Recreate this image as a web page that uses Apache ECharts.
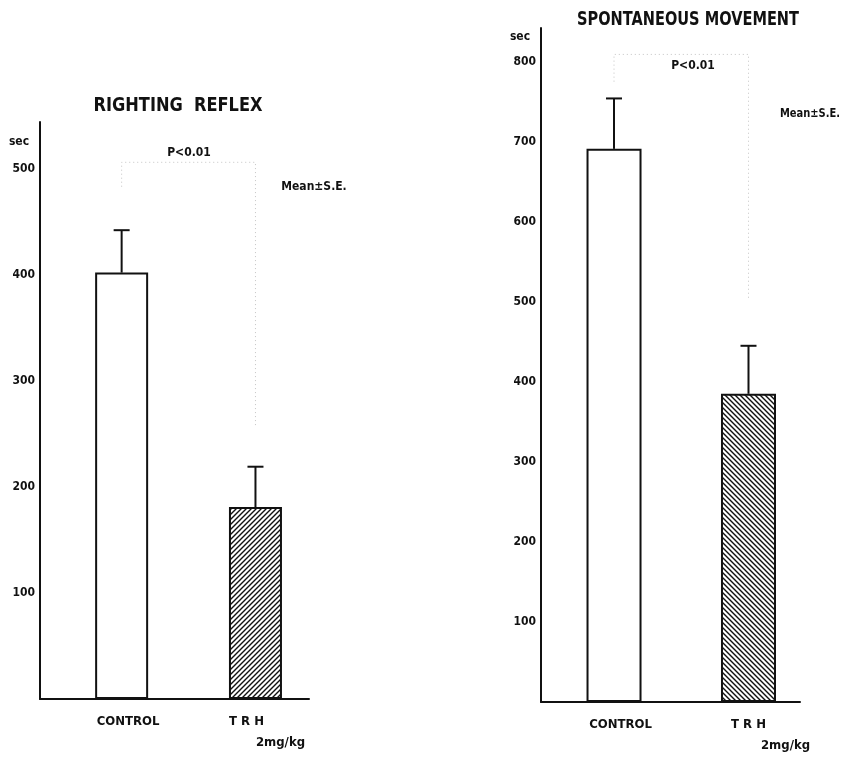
<!DOCTYPE html>
<html><head><meta charset="utf-8">
<script src="https://cdn.jsdelivr.net/npm/echarts@6/dist/echarts.min.js"></script>
<style>html,body{margin:0;padding:0;background:#fff}#c{width:844px;height:761px}</style>
</head><body><div id="c"></div>
<script>
// ---- data ----
const categories = ['CONTROL', 'TRH'];
const rightingMean = [402, 181];
const rightingSE = [40, 38];
const spontMean = [691, 385];
const spontSE = [63, 60];
const rightingTicks = [100, 200, 300, 400, 500];
const spontTicks = [100, 200, 300, 400, 500, 600, 700, 800];
// significance brackets: [left-leg bottom, top, right-leg bottom]
const rightingBracket = [483, 506, 257];
const spontBracket = [775, 809, 502];

const FONT = '"DejaVu Sans Condensed", "DejaVu Sans", sans-serif';

function hatch(dir) {
  const s = 5, c = document.createElement('canvas');
  c.width = s; c.height = s;
  const g = c.getContext('2d');
  g.fillStyle = '#fff'; g.fillRect(0, 0, s, s);
  g.strokeStyle = '#111'; g.lineWidth = 1.4;
  g.beginPath();
  if (dir === '/') {
    g.moveTo(-1, s + 1); g.lineTo(s + 1, -1);
    g.moveTo(-1, 1); g.lineTo(1, -1);
    g.moveTo(s - 1, s + 1); g.lineTo(s + 1, s - 1);
  } else {
    g.moveTo(-1, -1); g.lineTo(s + 1, s + 1);
    g.moveTo(s - 1, -1); g.lineTo(s + 1, 1);
    g.moveTo(-1, s - 1); g.lineTo(1, s + 1);
  }
  g.stroke();
  return c;
}

function xAxis(gi, min, max, trhShift, doseShift) {
  const base = { fontFamily: FONT, fontWeight: 'bold', fontSize: 13, color: '#111' };
  return {
    gridIndex: gi, type: 'value', min: min, max: max,
    axisLine: { show: true, onZero: false, lineStyle: { color: '#111', width: 2 } },
    axisTick: { show: false }, splitLine: { show: false },
    axisLabel: {
      customValues: categories.map((c, i) => i),
      margin: 16,
      formatter: v => {
        const c = categories[Math.round(v)];
        return c === 'TRH' ? '{a|T R H}\n{b|2mg/kg}' : '{c|' + c + '}';
      },
      rich: {
        a: Object.assign({}, base, { padding: trhShift < 0 ? [0, -2 * trhShift, 8, 0] : [0, 0, 8, 2 * trhShift] }),
        b: Object.assign({}, base, { padding: [0, 0, 0, 2 * doseShift] }),
        c: Object.assign({}, base, { padding: [0, 0, 0, 13] })
      }
    }
  };
}
function yAxis(gi, max, ticks) {
  return {
    gridIndex: gi, type: 'value', min: 0, max: max,
    axisLine: { show: true, onZero: false, lineStyle: { color: '#111', width: 2 } },
    axisTick: { show: false }, splitLine: { show: false },
    axisLabel: {
      customValues: ticks, margin: 5,
      fontFamily: FONT, fontWeight: 'bold', fontSize: 12, color: '#111'
    }
  };
}
function bars(gi, means, pattern, width) {
  return {
    type: 'bar', xAxisIndex: gi, yAxisIndex: gi, barWidth: width,
    data: means.map((v, i) => ({
      value: [i, v],
      itemStyle: { color: i === 0 ? '#fff' : { image: hatch(pattern), repeat: 'repeat' }, borderColor: '#111', borderWidth: 2 }
    })),
    animation: false, z: 2
  };
}
function errs(gi, means, se) {
  return {
    type: 'custom', xAxisIndex: gi, yAxisIndex: gi,
    data: means.map((v, i) => [i, v, v + se[i]]),
    renderItem: (params, api) => {
      const p0 = api.coord([api.value(0), api.value(1)]);
      const p1 = api.coord([api.value(0), api.value(2)]);
      const st = { stroke: '#111', lineWidth: 2 };
      return { type: 'group', children: [
        { type: 'line', shape: { x1: p0[0], y1: p0[1], x2: p1[0], y2: p1[1] }, style: st },
        { type: 'line', shape: { x1: p1[0] - 8, y1: p1[1], x2: p1[0] + 8, y2: p1[1] }, style: st }
      ]};
    },
    animation: false, z: 3
  };
}
function bracket(gi, b) {
  return {
    type: 'line', xAxisIndex: gi, yAxisIndex: gi, symbol: 'none', silent: true,
    data: [[0, b[0]], [0, b[1]], [1, b[1]], [1, b[2]]],
    lineStyle: { color: '#c4c4c4', width: 1, type: [1, 3] }, animation: false, z: 1
  };
}
function txt(x, y, t, size, sx) {
  return { type: 'text', x: x, y: y, scaleX: sx || 1,
    style: { text: t, font: 'bold ' + size + 'px ' + FONT, fill: '#111', align: 'center', verticalAlign: 'middle' } };
}

const chart = echarts.init(document.getElementById('c'));
chart.setOption({
  backgroundColor: '#fff',
  animation: false,
  grid: [
    { left: 40, top: 122, width: 269, height: 577 },
    { left: 541, top: 28, width: 259, height: 674 }
  ],
  xAxis: [xAxis(0, -0.61, 1.40, -9, 25), xAxis(1, -0.543, 1.383, 0, 37)],
  yAxis: [yAxis(0, 544, rightingTicks), yAxis(1, 842, spontTicks)],
  series: [
    bracket(0, rightingBracket), bars(0, rightingMean, '/', 53), errs(0, rightingMean, rightingSE),
    bracket(1, spontBracket), bars(1, spontMean, '\\', 55), errs(1, spontMean, spontSE)
  ],
  graphic: [
    txt(178, 106, 'RIGHTING  REFLEX', 20, 0.9),
    txt(688, 20, 'SPONTANEOUS MOVEMENT', 20, 0.81),
    txt(19, 142, 'sec', 12), txt(520, 37, 'sec', 12),
    txt(189, 153, 'P<0.01', 12), txt(693, 66, 'P<0.01', 12),
    txt(314, 187, 'Mean±S.E.', 12), txt(810, 114, 'Mean±S.E.', 12, 0.92)
  ]
});
</script></body></html>
